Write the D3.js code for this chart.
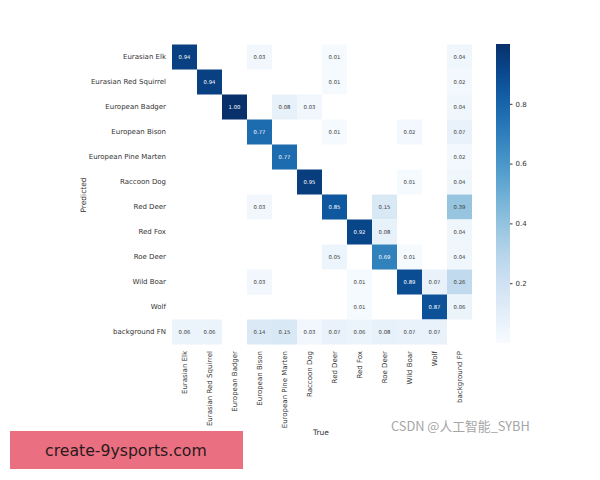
<!DOCTYPE html>
<html>
<head>
<meta charset="utf-8">
<script src="https://cdn.jsdelivr.net/npm/d3@7"></script>
<style>
  body { margin: 0; background: #fff; }
  svg { font-family: "DejaVu Sans", sans-serif; }
</style>
</head>
<body>
<svg id="cm" width="600" height="480"></svg>
<script>
// CLASS NAMES
const classes = ["Eurasian Elk", "Eurasian Red Squirrel", "European Badger", "European Bison",
    "European Pine Marten", "Raccoon Dog", "Red Deer", "Red Fox", "Roe Deer", "Wild Boar", "Wolf"]
const rowLabels = classes.concat(["background FN"])
const colLabels = classes.concat(["background FP"])

// MATRIX ROWS (predicted) - null = blank cell
const rowElk      = [0.94, null, null, 0.03, null, null, 0.01, null, null, null, null, 0.04]
const rowSquirrel = [null, 0.94, null, null, null, null, 0.01, null, null, null, null, 0.02]
const rowBadger   = [null, null, 1.00, null, 0.08, 0.03, null, null, null, null, null, 0.04]
const rowBison    = [null, null, null, 0.77, null, null, 0.01, null, null, 0.02, null, 0.07]
const rowMarten   = [null, null, null, null, 0.77, null, null, null, null, null, null, 0.02]
const rowRaccoon  = [null, null, null, null, null, 0.95, null, null, null, 0.01, null, 0.04]
const rowRedDeer  = [null, null, null, 0.03, null, null, 0.85, null, 0.15, null, null, 0.39]
const rowRedFox   = [null, null, null, null, null, null, null, 0.92, 0.08, null, null, 0.04]
const rowRoeDeer  = [null, null, null, null, null, null, 0.05, null, 0.69, 0.01, null, 0.04]
const rowBoar     = [null, null, null, 0.03, null, null, null, 0.01, null, 0.89, 0.07, 0.26]
const rowWolf     = [null, null, null, null, null, null, null, 0.01, null, null, 0.87, 0.06]
const rowFN       = [0.06, 0.06, null, 0.14, 0.15, 0.03, 0.07, 0.06, 0.08, 0.07, 0.07, null]

const matrix = [rowElk, rowSquirrel, rowBadger, rowBison, rowMarten, rowRaccoon,
    rowRedDeer, rowRedFox, rowRoeDeer, rowBoar, rowWolf, rowFN]

const colorbarTicks = [0.2, 0.4, 0.6, 0.8]

let svg = d3.select('#cm')

// SCALES
let x = d3.scaleBand().domain(colLabels).range([172, 472])
let y = d3.scaleBand().domain(rowLabels).range([44.5, 344.5])
let colour = d3.scaleSequential(d3.interpolateBlues).domain([0, 1])

// CELLS
let cells = []
matrix.forEach((row, i) => row.forEach((v, j) => {
    if (v !== null) cells.push({row: rowLabels[i], col: colLabels[j], value: v})
}))

svg.append('g')
    .selectAll('rect')
    .data(cells)
    .join('rect')
        .attr('x', d => x(d.col))
        .attr('y', d => y(d.row))
        .attr('width', x.bandwidth())
        .attr('height', y.bandwidth())
        .attr('fill', d => colour(d.value))

svg.append('g')
    .selectAll('text')
    .data(cells)
    .join('text')
        .attr('x', d => x(d.col) + x.bandwidth() / 2)
        .attr('y', d => y(d.row) + y.bandwidth() / 2)
        .attr('dy', '0.35em')
        .attr('text-anchor', 'middle')
        .attr('font-size', 5.3)
        .attr('fill', d => d.value > 0.5 ? '#ffffff' : '#3a3a3a')
        .text(d => d.value.toFixed(2))

// Y AXIS LABELS
svg.append('g')
    .selectAll('text')
    .data(rowLabels)
    .join('text')
        .attr('x', 166)
        .attr('y', d => y(d) + y.bandwidth() / 2)
        .attr('dy', '0.35em')
        .attr('text-anchor', 'end')
        .attr('font-size', 7)
        .attr('fill', '#333333')
        .text(d => d)

// X AXIS LABELS
svg.append('g')
    .selectAll('text')
    .data(colLabels)
    .join('text')
        .attr('transform', d => `translate(${x(d) + x.bandwidth() / 2}, 351) rotate(-90)`)
        .attr('dy', '0.35em')
        .attr('text-anchor', 'end')
        .attr('font-size', 7)
        .attr('fill', '#333333')
        .text(d => d)

// AXIS TITLES
svg.append('text')
    .attr('transform', 'translate(86, 195) rotate(-90)')
    .attr('text-anchor', 'middle')
    .attr('font-size', 7.5)
    .attr('fill', '#333333')
    .text('Predicted')

svg.append('text')
    .attr('x', 321)
    .attr('y', 435)
    .attr('text-anchor', 'middle')
    .attr('font-size', 7.5)
    .attr('fill', '#333333')
    .text('True')

// COLOURBAR
let cb = d3.scaleLinear().domain([0, 1]).range([343, 44])
let defs = svg.append('defs')
let grad = defs.append('linearGradient')
    .attr('id', 'cbgrad')
    .attr('x1', 0).attr('y1', 1).attr('x2', 0).attr('y2', 0)
d3.range(0, 1.0001, 0.05).forEach(t => {
    grad.append('stop').attr('offset', t).attr('stop-color', colour(t))
})
svg.append('rect')
    .attr('x', 496)
    .attr('y', cb(1))
    .attr('width', 14)
    .attr('height', cb(0) - cb(1))
    .attr('fill', 'url(#cbgrad)')

svg.append('g')
    .attr('transform', 'translate(510, 0)')
    .call(d3.axisRight(cb).tickValues(colorbarTicks).tickSize(2.5).tickFormat(d3.format('.1f')))
    .call(g => g.select('.domain').remove())
    .attr('color', '#333333')
    .attr('font-size', 7)
    .attr('font-family', '"DejaVu Sans", sans-serif')

// WATERMARK
svg.append('text')
    .attr('x', 391)
    .attr('y', 431)
    .attr('font-size', 12.8)
    .attr('font-family', '"Noto Sans CJK SC", "DejaVu Sans", sans-serif')
    .attr('fill', '#a6a6a6')
    .text('CSDN @人工智能_SYBH')

// BANNER
svg.append('rect')
    .attr('x', 10)
    .attr('y', 431)
    .attr('width', 233)
    .attr('height', 38)
    .attr('fill', '#ea6f80')
svg.append('text')
    .attr('x', 45)
    .attr('y', 456)
    .attr('font-size', 15.7)
    .attr('font-family', '"DejaVu Sans", sans-serif')
    .attr('fill', '#2a1a1c')
    .text('create-9ysports.com')
</script>
</body>
</html>
